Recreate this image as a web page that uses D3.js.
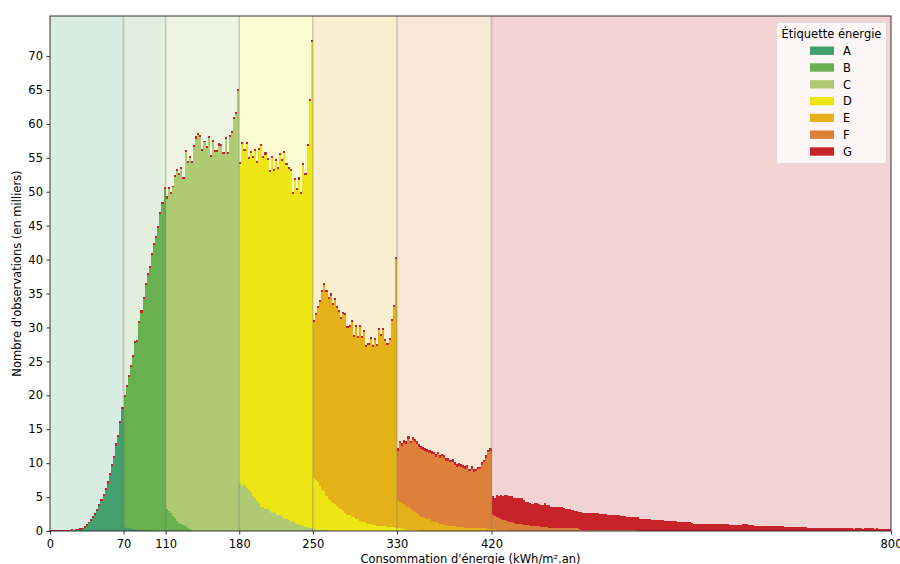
<!DOCTYPE html>
<html>
<head>
<meta charset="utf-8">
<script src="https://cdn.jsdelivr.net/npm/d3@7"></script>
<style>
  body { margin: 0; background: #fff; }
  svg { font-family: "DejaVu Sans", sans-serif; }
</style>
</head>
<body>
<svg id="chart" width="900" height="564"></svg>
<script>
// energy labels, colours and class limits (kWh/m².an)
const labels = ["A", "B", "C", "D", "E", "F", "G"];
const labelColors = ["#43a06e", "#68b050", "#aecb74", "#eee614", "#e4b218", "#dd8039", "#c82328"];
const thresholds = [0, 70, 110, 180, 250, 330, 420, 800];
const xTicks = [0, 70, 110, 180, 250, 330, 420, 800];
const yTicks = [0, 5, 10, 15, 20, 25, 30, 35, 40, 45, 50, 55, 60, 65, 70];
const binWidth = 2;
// kWh value where each series array starts
const seriesStart = [20, 70, 110, 180, 250, 330, 0];

// counts per 2 kWh bin, in thousands
const countsA = [0.1, 0.1, 0.1, 0.1, 0.2, 0.3, 0.5, 0.8, 1.2, 1.5, 1.9, 2.4, 3.0, 3.7, 4.4, 5.2, 6.1, 7.0, 8.2, 9.6, 10.7, 12.6, 13.8, 15.9, 18.0,
  0.6, 0.5, 0.4, 0.4, 0.3, 0.3, 0.2, 0.2, 0.1, 0.1];
const countsB = [19.1, 20.7, 22.3, 23.8, 25.4, 27.4, 27.6, 30.5, 32.1, 34.1, 36.2, 37.7, 38.7, 40.7, 42.2, 43.2, 44.7, 46.7, 48.2, 50.4,
  3.3, 3.0, 2.6, 2.2, 1.9, 1.5, 1.2, 1.1, 0.9, 0.7, 0.5, 0.3, 0.2];
const countsC = [45.7, 47.4, 47.1, 48.5, 50.2, 51.5, 51.2, 52.2, 51.0, 55.2, 53.8, 54.7, 54.1, 56.6, 57.8, 58.3, 58.1, 56.0, 57.3, 56.4,
  57.9, 55.1, 57.3, 55.9, 55.8, 56.8, 56.8, 55.6, 57.7, 55.6, 58.1, 58.7, 60.7, 61.5, 64.9,
  7.1, 6.7, 6.8, 6.3, 6.0, 5.7, 5.1, 4.9, 4.4, 4.2, 3.6, 3.5, 3.2, 3.3, 3.0, 2.7, 2.8, 2.5, 2.4, 2.4,
  2.1, 1.8, 1.8, 1.6, 1.4, 1.5, 1.2, 1.0, 0.9, 0.9, 0.7, 0.6, 0.5, 0.4, 0.4,
  0.3, 0.3, 0.2, 0.2, 0.1, 0.1, 0.1];
const countsD = [47.0, 50.3, 49.2, 50.7, 48.8, 50.0, 49.8, 51.1, 49.9, 52.0, 53.2, 51.5, 52.2, 51.4, 49.9, 52.2, 50.3, 52.0, 51.0, 53.0,
  52.4, 53.9, 52.1, 51.7, 51.6, 48.2, 50.5, 49.2, 50.9, 48.8, 53.2, 51.8, 56.2, 63.0, 71.6,
  7.5, 7.2, 7.0, 6.4, 6.0, 5.8, 5.0, 4.7, 4.4, 4.2, 4.0, 3.7, 3.4, 3.2, 2.9, 2.6, 2.4, 2.3, 2.1, 2.0,
  1.8, 1.7, 1.5, 1.4, 1.3, 1.2, 1.1, 1.0, 0.9, 0.9, 0.8, 0.8, 0.7, 0.7, 0.7, 0.6, 0.6, 0.6, 0.6, 0.5,
  0.4, 0.4, 0.3, 0.3, 0.2, 0.2, 0.2, 0.1, 0.1, 0.1];
const countsE = [23.0, 24.4, 25.6, 27.1, 29.1, 30.4, 30.1, 29.5, 30.3, 29.1, 30.0, 29.1, 28.9, 28.1, 29.1, 29.2, 27.5, 27.8, 28.7, 26.6,
  28.3, 26.7, 28.6, 27.0, 28.0, 25.9, 26.3, 27.3, 26.2, 27.3, 26.4, 28.8, 28.0, 28.9, 27.3, 26.8, 27.6, 30.4, 32.4, 39.6,
  4.2, 3.9, 3.8, 3.7, 3.5, 3.3, 3.1, 2.9, 2.7, 2.5, 2.3, 2.1, 2.0, 1.9, 1.8, 1.7, 1.5, 1.4, 1.3, 1.2,
  1.1, 1.0, 0.9, 0.9, 0.8, 0.8, 0.7, 0.7, 0.6, 0.6, 0.6, 0.6, 0.5, 0.5, 0.5, 0.5, 0.5, 0.4, 0.4, 0.4,
  0.4, 0.4, 0.4, 0.3, 0.3,
  0.3, 0.3, 0.2, 0.2, 0.2, 0.1, 0.1, 0.1];
const countsF = [7.2, 8.6, 8.5, 9.0, 9.1, 10.1, 9.6, 10.4, 10.3, 10.2, 10.1, 10.0, 10.0, 9.9, 9.9, 9.8, 9.9, 9.9, 9.6, 10.1,
  9.7, 10.0, 9.9, 9.4, 9.5, 9.3, 9.5, 9.1, 8.9, 9.0, 8.9, 8.7, 8.7, 8.8, 8.3, 8.7, 8.2, 8.4, 8.7, 8.7,
  9.4, 9.7, 10.4, 11.3, 11.5,
  2.0, 1.9, 1.8, 1.7, 1.6, 1.5, 1.5, 1.4, 1.3, 1.3, 1.2, 1.1, 1.1, 1.0, 1.0, 0.9, 0.9, 0.9, 0.8, 0.8,
  0.7, 0.7, 0.7, 0.6, 0.6, 0.6, 0.6, 0.5, 0.5, 0.5, 0.5, 0.5, 0.5, 0.5, 0.5, 0.4, 0.4, 0.4, 0.4, 0.4,
  0.4, 0.3, 0.2, 0.2, 0.2, 0.2, 0.2, 0.2, 0.2, 0.2, 0.2, 0.2, 0.2, 0.2, 0.2, 0.2, 0.2, 0.2, 0.2, 0.2,
  0.1, 0.1, 0.1, 0.1, 0.1, 0.1, 0.1, 0.1, 0.1, 0.1];
const countsG = [
  // 0-70
  0.1, 0.1, 0.1, 0.1, 0.1, 0.1, 0.1, 0.1, 0.1, 0.1, 0.2, 0.1, 0.2, 0.2, 0.2, 0.2, 0.2, 0.2, 0.2, 0.2,
  0.3, 0.3, 0.3, 0.3, 0.3, 0.3, 0.3, 0.3, 0.3, 0.3, 0.3, 0.3, 0.3, 0.3, 0.3,
  // 70-110
  0.3, 0.3, 0.3, 0.3, 0.3, 0.3, 0.3, 0.3, 0.3, 0.3, 0.3, 0.3, 0.3, 0.3, 0.3, 0.3, 0.3, 0.3, 0.3, 0.3,
  // 110-180
  0.3, 0.3, 0.3, 0.2, 0.3, 0.3, 0.4, 0.3, 0.3, 0.3, 0.3, 0.3, 0.3, 0.3, 0.4, 0.3, 0.3, 0.3, 0.2, 0.3,
  0.3, 0.3, 0.3, 0.3, 0.3, 0.4, 0.3, 0.3, 0.3, 0.3, 0.3, 0.3, 0.3, 0.3, 0.3,
  // 180-250
  0.3, 0.3, 0.3, 0.4, 0.3, 0.3, 0.3, 0.3, 0.3, 0.3, 0.3, 0.3, 0.4, 0.3, 0.3, 0.3, 0.3, 0.3, 0.3, 0.3,
  0.3, 0.3, 0.3, 0.3, 0.3, 0.3, 0.3, 0.4, 0.3, 0.3, 0.3, 0.3, 0.3, 0.3, 0.3,
  // 250-330
  0.3, 0.3, 0.3, 0.3, 0.3, 0.3, 0.3, 0.3, 0.4, 0.3, 0.3, 0.3, 0.3, 0.3, 0.3, 0.3, 0.3, 0.3, 0.3, 0.3,
  0.3, 0.3, 0.3, 0.3, 0.3, 0.3, 0.3, 0.3, 0.3, 0.3, 0.3, 0.3, 0.3, 0.3, 0.3, 0.3, 0.3, 0.3, 0.3, 0.3,
  // 330-420
  0.4, 0.4, 0.4, 0.4, 0.4, 0.4, 0.4, 0.4, 0.4, 0.4, 0.4, 0.4, 0.4, 0.4, 0.4, 0.4, 0.4, 0.4, 0.4, 0.4,
  0.4, 0.4, 0.4, 0.4, 0.4, 0.4, 0.4, 0.4, 0.4, 0.4, 0.4, 0.4, 0.4, 0.4, 0.4, 0.4, 0.4, 0.4, 0.4, 0.4,
  0.4, 0.4, 0.4, 0.4, 0.4,
  // 420-800
  2.8, 2.6, 3.3, 3.3, 3.5, 3.6, 3.7, 3.8, 3.8, 3.8, 3.7, 3.7, 3.7, 3.9, 3.9, 3.6, 3.4, 3.4, 3.4, 3.2,
  3.4, 3.4, 3.3, 3.3, 3.2, 3.5, 3.2, 3.3, 3.1, 3.0, 3.0, 3.0, 3.0, 3.1, 2.9, 2.9, 2.9, 2.8, 2.7, 2.5,
  2.5, 2.5, 2.6, 2.5, 2.5, 2.5, 2.4, 2.4, 2.4, 2.4, 2.4, 2.3, 2.3, 2.3, 2.3, 2.2, 2.1, 2.1, 2.1, 2.1,
  2.2, 2.1, 2.1, 2.1, 2.0, 1.9, 1.9, 1.9, 1.9, 2.0, 1.8, 1.8, 1.8, 1.8, 1.8, 1.7, 1.6, 1.6, 1.6, 1.6,
  1.6, 1.6, 1.5, 1.5, 1.5, 1.5, 1.5, 1.5, 1.4, 1.3, 1.3, 1.3, 1.3, 1.3, 1.3, 1.2, 1.1, 1.1, 1.1, 1.1,
  1.1, 1.1, 1.1, 1.0, 1.0, 1.0, 1.0, 1.0, 1.0, 1.0, 1.0, 1.0, 1.0, 0.9, 0.9, 0.9, 0.9, 0.9, 0.9, 1.0,
  1.0, 1.0, 0.9, 0.9, 0.9, 0.8, 0.8, 0.8, 0.8, 0.8, 0.7, 0.7, 0.7, 0.7, 0.7, 0.7, 0.7, 0.7, 0.7, 0.6,
  0.6, 0.6, 0.6, 0.6, 0.6, 0.6, 0.6, 0.6, 0.6, 0.6, 0.5, 0.5, 0.5, 0.5, 0.5, 0.5, 0.5, 0.5, 0.5, 0.5,
  0.5, 0.5, 0.4, 0.5, 0.4, 0.4, 0.4, 0.4, 0.4, 0.4, 0.4, 0.4, 0.3, 0.4, 0.4, 0.4, 0.3, 0.4, 0.4, 0.4,
  0.4, 0.4, 0.3, 0.4, 0.3, 0.3, 0.3, 0.3, 0.3, 0.3];

const seriesCounts = [countsA, countsB, countsC, countsD, countsE, countsF, countsG];

var svg = d3.select("#chart"),
  margin = {top: 16, right: 9, bottom: 33, left: 50},
  width = +svg.attr("width") - margin.left - margin.right,
  height = +svg.attr("height") - margin.top - margin.bottom;

var x = d3.scaleLinear().domain([0, 800]).range([0, width]);
var y = d3.scaleLinear().domain([0, 75.9]).range([height, 0]);
var color = d3.scaleOrdinal().domain(labels).range(labelColors);

// one row per bin
var nBins = 800 / binWidth;
var table = d3.range(nBins).map(function(i) {
  var row = {x0: i * binWidth};
  labels.forEach(function(k, j) {
    var off = i - seriesStart[j] / binWidth;
    var arr = seriesCounts[j];
    row[k] = (off >= 0 && off < arr.length) ? arr[off] : 0;
  });
  return row;
});

var stacked = d3.stack().keys(labels)(table);

var g = svg.append("g")
  .attr("transform", "translate(" + margin.left + "," + margin.top + ")");

// label background bands
var bands = d3.range(labels.length).map(function(i) {
  return {label: labels[i], x0: thresholds[i], x1: thresholds[i + 1]};
});
g.selectAll(".band")
  .data(bands)
  .enter().append("rect")
  .attr("class", "band")
  .attr("x", function(d) { return x(d.x0); })
  .attr("width", function(d) { return x(d.x1) - x(d.x0); })
  .attr("y", 0)
  .attr("height", height)
  .attr("fill", function(d) { return color(d.label); })
  .attr("fill-opacity", 0.2);

// stacked histogram
g.selectAll(".layer")
  .data(stacked)
  .enter().append("g")
  .attr("class", "layer")
  .attr("fill", function(d) { return color(d.key); })
  .selectAll("rect")
  .data(function(d) { return d.filter(function(p) { return p[1] - p[0] > 0; }); })
  .enter().append("rect")
  .attr("x", function(d) { return x(d.data.x0); })
  .attr("width", function(d) { return x(d.data.x0 + binWidth) - x(d.data.x0); })
  .attr("y", function(d) { return y(d[1]); })
  .attr("height", function(d) { return y(d[0]) - y(d[1]); })
  .attr("shape-rendering", "crispEdges");

// class limits
g.selectAll(".limit")
  .data(thresholds.slice(1, -1))
  .enter().append("line")
  .attr("class", "limit")
  .attr("x1", function(d) { return x(d); })
  .attr("x2", function(d) { return x(d); })
  .attr("y1", 0)
  .attr("y2", height)
  .attr("stroke", "#7a7a7a")
  .attr("stroke-opacity", 0.35)
  .attr("stroke-width", 1.6);

// axes
var xAxis = g.append("g")
  .attr("transform", "translate(0," + height + ")")
  .call(d3.axisBottom(x).tickValues(xTicks).tickFormat(d3.format("d")).tickSizeOuter(0).tickSize(3.5).tickPadding(5));
var yAxis = g.append("g")
  .call(d3.axisLeft(y).tickValues(yTicks).tickSizeOuter(0).tickSize(3.5).tickPadding(3.5));
[xAxis, yAxis].forEach(function(a) {
  a.selectAll("text").attr("font-size", "11.5px").attr("fill", "#000").attr("font-family", "DejaVu Sans, sans-serif");
  a.selectAll(".tick line").attr("stroke", "#000").attr("stroke-width", 0.8);
  a.select(".domain").remove();
});

// frame
g.append("rect")
  .attr("x", 0).attr("y", 0)
  .attr("width", width).attr("height", height)
  .attr("fill", "none")
  .attr("stroke", "#222")
  .attr("stroke-width", 0.9);

// axis titles
svg.append("text")
  .attr("x", margin.left + width / 2)
  .attr("y", 563)
  .attr("text-anchor", "middle")
  .attr("font-size", "11.5px")
  .text("Consommation d'énergie (kWh/m².an)");

svg.append("text")
  .attr("transform", "translate(20.5," + (margin.top + height / 2) + ") rotate(-90)")
  .attr("text-anchor", "middle")
  .attr("font-size", "11.5px")
  .text("Nombre d'observations (en milliers)");

// legend
var legend = svg.append("g").attr("transform", "translate(776.5,22.5)");
legend.append("rect")
  .attr("width", 110)
  .attr("height", 141)
  .attr("rx", 2.5)
  .attr("fill", "#fff")
  .attr("fill-opacity", 0.8)
  .attr("stroke", "#d8d8d8")
  .attr("stroke-width", 0.8);
legend.append("text")
  .attr("x", 55)
  .attr("y", 15)
  .attr("text-anchor", "middle")
  .attr("font-size", "11.5px")
  .text("Étiquette énergie");
var items = legend.selectAll(".item")
  .data(labels)
  .enter().append("g")
  .attr("class", "item")
  .attr("transform", function(d, i) { return "translate(0," + (24 + i * 16.8) + ")"; });
items.append("rect")
  .attr("x", 33.5)
  .attr("width", 24)
  .attr("height", 8.4)
  .attr("fill", function(d) { return color(d); });
items.append("text")
  .attr("x", 66.5)
  .attr("y", 8.5)
  .attr("font-size", "11.5px")
  .text(function(d) { return d; });
</script>
</body>
</html>
